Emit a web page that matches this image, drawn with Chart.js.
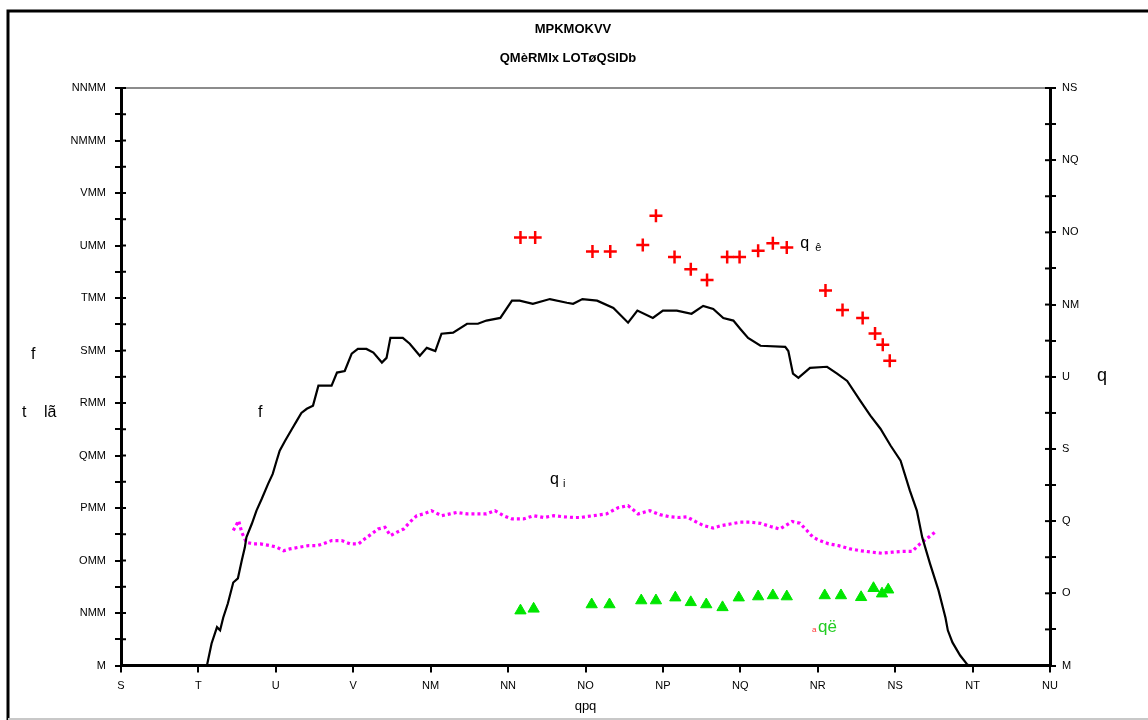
<!DOCTYPE html>
<html>
<head>
<meta charset="utf-8">
<script src="https://cdn.jsdelivr.net/npm/chart.js@4.4.0/dist/chart.umd.min.js"></script>
<style>
  html, body { margin: 0; padding: 0; background: #fff; }
  canvas { display: block; }
</style>
</head>
<body>
<canvas id="chart" width="1148" height="720"></canvas>
<script>
// Tick labels (as printed on the chart)
const hourTicks = [6, 7, 8, 9, 10, 11, 12, 13, 14, 15, 16, 17, 18];
const hourLabels = ['S', 'T', 'U', 'V', 'NM', 'NN', 'NO', 'NP', 'NQ', 'NR', 'NS', 'NT', 'NU'];
const leftLabels = ['M', 'NMM', 'OMM', 'PMM', 'QMM', 'RMM', 'SMM', 'TMM', 'UMM', 'VMM', 'NMMM', 'NNMM'];
const rightLabels = ['M', 'O', 'Q', 'S', 'U', 'NM', 'NO', 'NQ', 'NS'];

// Series f (left axis)
const fHours = [7.11, 7.17, 7.24, 7.28, 7.32, 7.38, 7.45, 7.51, 7.56, 7.60, 7.62, 7.69, 7.75, 7.82, 7.90,
  7.96, 8.01, 8.05, 8.12, 8.21, 8.27, 8.33, 8.40, 8.48, 8.55, 8.72, 8.79, 8.89, 8.98, 9.06, 9.17, 9.26,
  9.37, 9.43, 9.48, 9.64, 9.73, 9.86, 9.95, 10.06, 10.14, 10.29, 10.47, 10.61, 10.72, 10.90, 11.05, 11.15,
  11.32, 11.54, 11.76, 11.84, 11.96, 12.15, 12.36, 12.55, 12.67, 12.87, 13.00, 13.18, 13.37, 13.52, 13.65,
  13.78, 13.91, 14.00, 14.10, 14.26, 14.58, 14.62, 14.68, 14.75, 14.90, 15.12, 15.25, 15.38, 15.55, 15.68,
  15.81, 15.94, 16.07, 16.19, 16.28, 16.35, 16.45, 16.56, 16.65, 16.68, 16.74, 16.84, 16.93, 16.96];
const fValues = [0, 42, 73, 67, 91, 118, 158, 166, 200, 225, 244, 270, 295, 318, 346,
  365, 390, 409, 428, 451, 466, 481, 489, 495, 533, 533, 558, 561, 594, 603, 603, 596,
  577, 586, 624, 624, 613, 590, 605, 599, 632, 634, 651, 651, 657, 662, 695, 695,
  689, 698, 691, 689, 698, 695, 681, 653, 676, 662, 676, 676, 670, 685, 679,
  662, 657, 641, 624, 609, 607, 599, 556, 548, 567, 569, 556, 542, 504, 476,
  451, 419, 390, 333, 295, 244, 194, 143, 91, 67, 44, 19, 2, 0];

// Series qi (right axis)
const qiHours = [7.45, 7.52, 7.56, 7.62, 7.71, 7.80, 7.93, 8.01, 8.10, 8.18, 8.31, 8.42, 8.53, 8.61, 8.72,
  8.85, 8.96, 9.07, 9.15, 9.24, 9.32, 9.41, 9.48, 9.56, 9.65, 9.73, 9.82, 9.91, 10.01, 10.14, 10.25,
  10.34, 10.47, 10.60, 10.72, 10.83, 10.94, 11.05, 11.20, 11.33, 11.46, 11.59, 11.72, 11.85, 11.93,
  12.10, 12.27, 12.42, 12.55, 12.68, 12.83, 12.96, 13.09, 13.20, 13.31, 13.42, 13.52, 13.65, 13.76,
  13.87, 14.00, 14.13, 14.26, 14.39, 14.51, 14.67, 14.77, 14.86, 14.94, 15.03, 15.14, 15.27, 15.42,
  15.55, 15.70, 15.83, 15.96, 16.09, 16.22, 16.32, 16.43, 16.53];
const qiValues = [3.74, 4.01, 3.69, 3.41, 3.37, 3.37, 3.32, 3.28, 3.18, 3.23, 3.28, 3.32, 3.32, 3.37, 3.46,
  3.46, 3.37, 3.37, 3.51, 3.65, 3.78, 3.83, 3.60, 3.69, 3.78, 3.97, 4.15, 4.20, 4.29, 4.15, 4.20,
  4.24, 4.20, 4.20, 4.20, 4.29, 4.15, 4.06, 4.06, 4.15, 4.10, 4.15, 4.12, 4.10, 4.10,
  4.15, 4.20, 4.37, 4.43, 4.20, 4.29, 4.18, 4.12, 4.10, 4.12, 3.99, 3.88, 3.81, 3.88,
  3.92, 3.97, 3.97, 3.94, 3.85, 3.78, 3.99, 3.94, 3.74, 3.55, 3.46, 3.37, 3.32, 3.23,
  3.18, 3.14, 3.11, 3.14, 3.16, 3.16, 3.37, 3.55, 3.72];

// Series qê (right axis)
const qeHours = [11.16, 11.35, 12.09, 12.32, 12.74, 12.91, 13.15, 13.36, 13.57, 13.83, 13.99, 14.23,
  14.42, 14.60, 15.10, 15.32, 15.58, 15.74, 15.84, 15.93];
const qeValues = [11.86, 11.86, 11.47, 11.47, 11.65, 12.46, 11.32, 10.98, 10.68, 11.32, 11.32, 11.49,
  11.70, 11.58, 10.39, 9.85, 9.63, 9.20, 8.89, 8.44];

// Series që (right axis)
const qgHours = [11.16, 11.33, 12.08, 12.31, 12.72, 12.91, 13.16, 13.36, 13.56, 13.77, 13.98, 14.23,
  14.42, 14.60, 15.09, 15.30, 15.56, 15.72, 15.83, 15.91];
const qgValues = [1.52, 1.57, 1.69, 1.69, 1.80, 1.80, 1.88, 1.75, 1.69, 1.61, 1.88, 1.91,
  1.94, 1.91, 1.94, 1.94, 1.89, 2.14, 1.99, 2.10];

const FONT = '"Liberation Sans", Arial, sans-serif';

function toPoints(xs, ys) {
  return xs.map((x, i) => ({ x: x, y: ys[i] }));
}

// Frame, top line, inner tick marks and free text
const decorPlugin = {
  id: 'decor',
  beforeDraw(chart) {
    const ctx = chart.ctx;
    ctx.save();
    ctx.fillStyle = '#fff';
    ctx.fillRect(0, 0, chart.width, chart.height);
    ctx.restore();
  },
  afterDraw(chart) {
    const { ctx, chartArea: a, scales } = chart;
    const line = (x1, y1, x2, y2) => {
      ctx.beginPath();
      ctx.moveTo(x1, y1);
      ctx.lineTo(x2, y2);
      ctx.stroke();
    };
    ctx.save();

    // outer frame
    ctx.strokeStyle = '#000';
    ctx.lineWidth = 3;
    ctx.beginPath();
    ctx.moveTo(8, 720);
    ctx.lineTo(8, 11);
    ctx.lineTo(1148, 11);
    ctx.stroke();
    ctx.strokeStyle = '#c8c8c8';
    ctx.lineWidth = 2;
    line(8, 719, 1148, 719);

    // top edge of the plot
    ctx.strokeStyle = '#8c8c8c';
    ctx.lineWidth = 2;
    line(a.left + 2, a.top, a.right - 2, a.top);

    // tick marks inside the axes
    ctx.strokeStyle = '#000';
    ctx.lineWidth = 2;
    scales.y.ticks.forEach(t => {
      const py = scales.y.getPixelForValue(t.value);
      line(a.left, py, a.left + 5, py);
    });
    scales.y2.ticks.forEach(t => {
      const py = scales.y2.getPixelForValue(t.value);
      line(a.right - 5, py, a.right, py);
    });

    // titles
    ctx.fillStyle = '#000';
    ctx.textAlign = 'center';
    ctx.textBaseline = 'middle';
    ctx.font = 'bold 13px ' + FONT;
    ctx.fillText('MPKMOKVV', 573, 29);
    ctx.fillText('QMèRMIx LOTøQSIDb', 568, 58);

    // axis titles
    ctx.font = '16px ' + FONT;
    ctx.textAlign = 'left';
    ctx.fillText('f', 31, 355);
    ctx.fillText('t', 22, 413);
    ctx.fillText('lã', 44, 413);
    ctx.font = '18px ' + FONT;
    ctx.fillText('q', 1097, 376);

    // series labels
    const xs = scales.x, yl = scales.y, yr = scales.y2;
    ctx.font = '16px ' + FONT;
    ctx.fillText('f', xs.getPixelForValue(7.77), yl.getPixelForValue(481));

    let px = xs.getPixelForValue(11.62), py = yr.getPixelForValue(5.14);
    ctx.fillText('q', px - 6, py);
    ctx.font = '11px ' + FONT;
    ctx.fillText('i', px + 7, py + 4);

    px = xs.getPixelForValue(14.85); py = yr.getPixelForValue(11.70);
    ctx.font = '16px ' + FONT;
    ctx.fillText('q', px - 6, py);
    ctx.font = '11px ' + FONT;
    ctx.fillText('ê', px + 9, py + 5);

    px = xs.getPixelForValue(15.03); py = yr.getPixelForValue(1.07);
    ctx.fillStyle = '#ff3030';
    ctx.font = '8px ' + FONT;
    ctx.fillText('a', px - 8, py + 3);
    ctx.fillStyle = '#22cc22';
    ctx.font = '17px ' + FONT;
    ctx.fillText('që', px - 2, py);

    ctx.restore();
  }
};

const tickFont = { family: FONT, size: 11 };

new Chart(document.getElementById('chart').getContext('2d'), {
  type: 'scatter',
  data: {
    datasets: [
      {
        label: 'f',
        data: toPoints(fHours, fValues),
        yAxisID: 'y',
        showLine: true,
        borderColor: '#000',
        borderWidth: 2.2,
        pointRadius: 0,
        tension: 0
      },
      {
        label: 'qi',
        data: toPoints(qiHours, qiValues),
        yAxisID: 'y2',
        showLine: true,
        borderColor: '#ff00ff',
        borderWidth: 3.2,
        borderDash: [3, 3],
        pointRadius: 0,
        tension: 0
      },
      {
        label: 'qê',
        data: toPoints(qeHours, qeValues),
        yAxisID: 'y2',
        showLine: false,
        pointStyle: 'cross',
        pointRadius: 6.5,
        pointBorderWidth: 2.5,
        borderColor: '#ff0000',
        backgroundColor: '#ff0000'
      },
      {
        label: 'që',
        data: toPoints(qgHours, qgValues),
        yAxisID: 'y2',
        showLine: false,
        pointStyle: 'triangle',
        pointRadius: 6.5,
        pointBorderWidth: 1,
        borderColor: '#00e600',
        backgroundColor: '#00e600'
      }
    ]
  },
  options: {
    responsive: false,
    animation: false,
    events: [],
    layout: { padding: { top: 88, left: 0, right: 0, bottom: 0 } },
    plugins: {
      legend: { display: false },
      title: { display: false },
      tooltip: { enabled: false }
    },
    scales: {
      x: {
        type: 'linear',
        position: 'bottom',
        min: 6,
        max: 18,
        afterFit: s => { s.height = 54.5; },
        border: { color: '#000', width: 3 },
        grid: { drawOnChartArea: false, drawTicks: true, tickLength: 7, color: '#000', lineWidth: 2 },
        ticks: {
          stepSize: 1,
          autoSkip: false,
          maxRotation: 0,
          padding: 7,
          color: '#000',
          font: tickFont,
          callback: v => {
            const i = hourTicks.indexOf(v);
            return i >= 0 ? hourLabels[i] : '';
          }
        },
        title: {
          display: true,
          text: 'qpq',
          color: '#000',
          font: { family: FONT, size: 13 },
          padding: { top: 0, bottom: 6 }
        }
      },
      y: {
        type: 'linear',
        position: 'left',
        min: 0,
        max: 1100,
        afterFit: s => { s.width = 121; },
        border: { color: '#000', width: 3 },
        grid: { drawOnChartArea: false, drawTicks: true, tickLength: 6, color: '#000', lineWidth: 2 },
        ticks: {
          stepSize: 50,
          autoSkip: false,
          padding: 9,
          color: '#000',
          font: tickFont,
          callback: v => (v % 100 === 0 ? leftLabels[v / 100] : '')
        }
      },
      y2: {
        type: 'linear',
        position: 'right',
        min: 0,
        max: 16,
        afterFit: s => { s.width = 98; },
        border: { color: '#000', width: 3 },
        grid: { drawOnChartArea: false, drawTicks: true, tickLength: 6, color: '#000', lineWidth: 2 },
        ticks: {
          stepSize: 1,
          autoSkip: false,
          padding: 6,
          color: '#000',
          font: tickFont,
          callback: v => (v % 2 === 0 ? rightLabels[v / 2] : '')
        }
      }
    }
  },
  plugins: [decorPlugin]
});
</script>
</body>
</html>
